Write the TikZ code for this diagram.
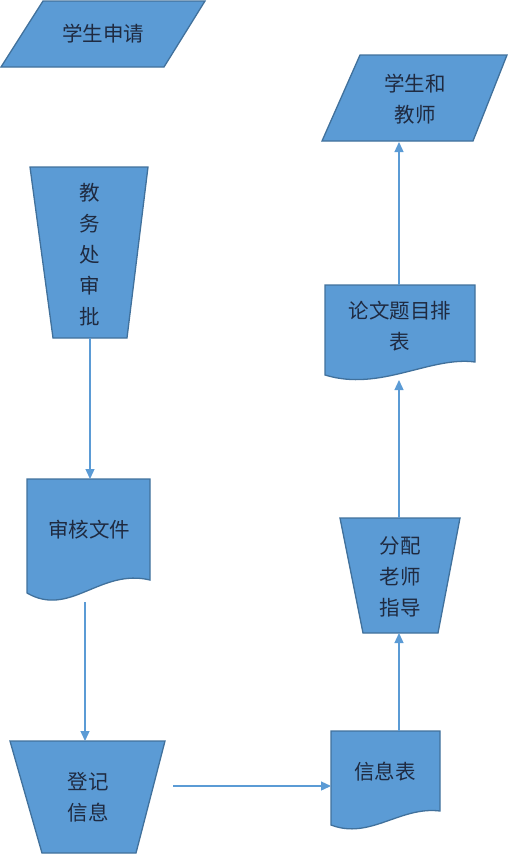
\documentclass[tikz,border=0pt]{standalone}
\usepackage{fontspec}
\newfontfamily\cjk{Noto Sans CJK SC}
\usetikzlibrary{arrows.meta}
\definecolor{boxblue}{HTML}{5B9BD5}
\definecolor{boxedge}{HTML}{41719C}
\definecolor{boxtext}{HTML}{1F2A40}
\tikzset{
  shapebox/.style={draw=boxedge, line width=1.3pt, fill=boxblue},
  flowtext/.style={text=boxtext, font=\cjk\fontsize{20.5}{31}\selectfont, align=center, inner sep=0pt},
  flowarrow/.style={draw=boxblue, line width=1.3pt, -{Triangle[length=10pt,width=9pt]}}
}
\begin{document}
\begin{tikzpicture}[x=1pt, y=-1pt]
  \useasboundingbox (0,0) rectangle (510,854);
  % student request (parallelogram)
  \draw[shapebox] (43,1) -- (205,1) -- (164,67) -- (1,67) -- cycle;
  \node[flowtext] (request) at (103,34) {学生申请};
  % academic office approval
  \draw[shapebox] (30,167) -- (148,167) -- (127,338) -- (53,338) -- cycle;
  \node[flowtext] (approve) at (90,255) {教\\务\\处\\审\\批};
  \coordinate (approve-s) at (90,338);
  % review documents
  \draw[shapebox] (27,479) -- (150,479) -- (150,580)
    .. controls (100,568) and (70,618) .. (27,593) -- cycle;
  \node[flowtext] (review) at (89,530) {审核文件};
  \coordinate (review-n) at (90,479);
  \coordinate (review-s) at (85,602);
  % register info
  \draw[shapebox] (10,741) -- (165,741) -- (136,853) -- (42,853) -- cycle;
  \node[flowtext] (register) at (88,797) {登记\\信息};
  \coordinate (register-n) at (85,741);
  \coordinate (register-e) at (173,786);
  % info table
  \draw[shapebox] (331,731) -- (440,731) -- (440,811)
    .. controls (400,806) and (370,840) .. (331,825) -- cycle;
  \node[flowtext] (infotab) at (385,772) {信息表};
  \coordinate (infotab-w) at (331,786);
  \coordinate (infotab-n) at (399,731);
  % assign advisor
  \draw[shapebox] (340,518) -- (460,518) -- (438,633) -- (363,633) -- cycle;
  \node[flowtext] (assign) at (400,577) {分配\\老师\\指导};
  \coordinate (assign-s) at (399,633);
  \coordinate (assign-n) at (399,518);
  % thesis topic schedule
  \draw[shapebox] (325,285) -- (475,285) -- (475,362)
    .. controls (430,356) and (380,392) .. (325,375) -- cycle;
  \node[flowtext] (topics) at (400,326) {论文题目排\\表};
  \coordinate (topics-s) at (399,380);
  \coordinate (topics-n) at (399,285);
  % students and teachers (parallelogram)
  \draw[shapebox] (360,55) -- (507,55) -- (473,141) -- (322,141) -- cycle;
  \node[flowtext] (people) at (415,99) {学生和\\教师};
  \coordinate (people-s) at (399,142);
  % connectors
  \draw[flowarrow] (approve-s) -- (review-n);
  \draw[flowarrow] (review-s) -- (register-n);
  \draw[flowarrow] (register-e) -- (infotab-w);
  \draw[flowarrow] (infotab-n) -- (assign-s);
  \draw[flowarrow] (assign-n) -- (topics-s);
  \draw[flowarrow] (topics-n) -- (people-s);
\end{tikzpicture}
\end{document}
